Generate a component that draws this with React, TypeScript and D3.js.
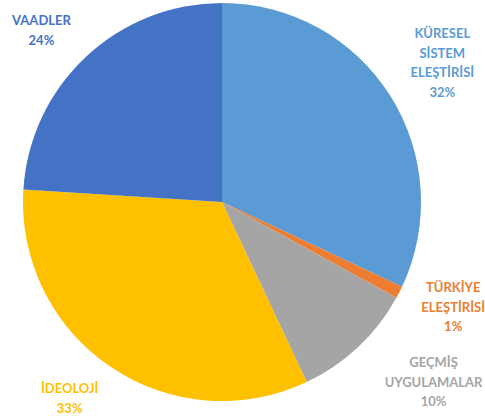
import React from "react";
import * as d3 from "d3";

const categories = ["KÜRESEL SİSTEM ELEŞTİRİSİ", "TÜRKİYE ELEŞTİRİSİ", "GEÇMİŞ UYGULAMALAR", "İDEOLOJİ", "VAADLER"];
const labelLines = [["KÜRESEL", "SİSTEM", "ELEŞTİRİSİ"], ["TÜRKİYE", "ELEŞTİRİSİ"], ["GEÇMİŞ", "UYGULAMALAR"], ["İDEOLOJİ"], ["VAADLER"]];
const values = [32, 1, 10, 33, 24];
const colors = ["#5B9BD5", "#ED7D31", "#A5A5A5", "#FFC000", "#4472C4"];

// layout constants
const W = 485, H = 416;
const CX = 222, CY = 202, R = 199, LABEL_R = 255;
const LINE_H = 19.5;
const labelNudge = [[5, -3], [4, -11], [37, -6], [-9, -15], [-6, 14]];

export default function App() {
  const pie = d3.pie<number>().sort(null).value((d) => d);
  const arcs = pie(values);
  const arc = d3.arc<d3.PieArcDatum<number>>().innerRadius(0).outerRadius(R);
  const total = d3.sum(values);
  return (
    <svg width={W} height={H} style={{ position: "absolute", left: 0, top: 0, background: "#fff" }}>
      <g transform={`translate(${CX},${CY})`}>
        {arcs.map((a, i) => (
          <path key={categories[i]} d={arc(a) || ""} fill={colors[i]} />
        ))}
        {arcs.map((a, i) => {
          const mid = (a.startAngle + a.endAngle) / 2;
          const x = Math.sin(mid) * LABEL_R + labelNudge[i][0];
          const y = -Math.cos(mid) * LABEL_R + labelNudge[i][1];
          const lines = [...labelLines[i], `${Math.round((values[i] / total) * 100)}%`];
          const top = y - ((lines.length - 1) * LINE_H) / 2;
          return (
            <text
              key={"l" + i}
              x={x}
              y={top}
              textAnchor="middle"
              fill={colors[i]}
              fontFamily="Lato, 'Open Sans', sans-serif"
              fontWeight="bold"
              fontSize={13}
              dominantBaseline="central"
            >
              {lines.map((ln, j) => (
                <tspan key={j} x={x} y={top + j * LINE_H}>
                  {ln}
                </tspan>
              ))}
            </text>
          );
        })}
      </g>
    </svg>
  );
}
